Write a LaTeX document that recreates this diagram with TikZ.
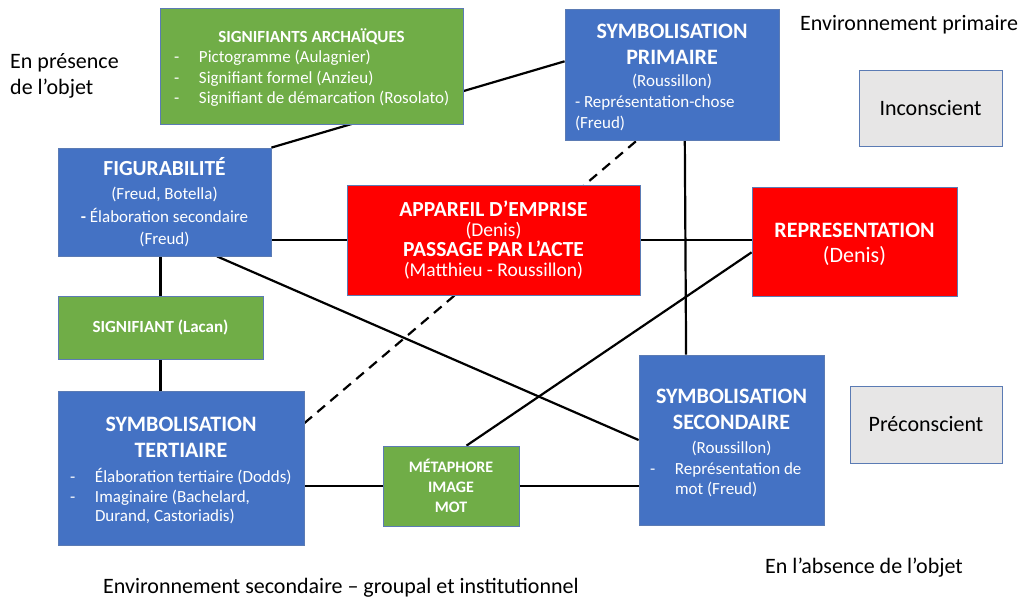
\documentclass[tikz,border=0pt]{standalone}
\usepackage{fontspec}
\setmainfont{Carlito}

\pgfdeclarelayer{background}
\pgfsetlayers{background,main}

\definecolor{boxblue}{HTML}{4472C4}
\definecolor{boxgreen}{HTML}{70AD47}
\definecolor{boxred}{HTML}{FF0000}
\definecolor{boxgrey}{HTML}{E7E6E6}
\definecolor{boxline}{HTML}{5B7BB4}

\newcommand{\bigtitle}[1]{{\fontsize{22}{26}\selectfont\bfseries #1}}
\newcommand{\redtitle}[1]{{\fontsize{21.5}{20}\selectfont\bfseries #1}}
\newcommand{\topgap}[1]{\rule{0pt}{#1}}
\newcommand{\lefttext}[2]{\makebox[#1][l]{#2}}
\newcommand{\dashitem}[2]{\makebox[#1][l]{\makebox[25pt][l]{-}#2}}

\tikzset{
  panel/.style={draw=boxline, line width=0.8pt, text=white, inner sep=0pt, align=center},
  bluebox/.style={panel, fill=boxblue},
  greenbox/.style={panel, fill=boxgreen},
  redbox/.style={panel, fill=boxred},
  greybox/.style={panel, fill=boxgrey, text=black},
  link/.style={line width=2.2pt},
  sidetext/.style={font=\fontsize{22}{26}\selectfont, inner sep=0pt},
}

\begin{document}
\begin{tikzpicture}[x=1pt, y=-1pt]
  \useasboundingbox (0,0) rectangle (1020,600);

  % boxes
  \node[greenbox, minimum width=303pt, minimum height=116pt, font=\fontsize{17}{20.5}\selectfont] (archaic) at (311.5,66)
    {\topgap{17pt}\textbf{SIGNIFIANTS ARCHAÏQUES}\\
     \dashitem{275pt}{Pictogramme (Aulagnier)}\\
     \dashitem{275pt}{Signifiant formel (Anzieu)}\\
     \dashitem{275pt}{Signifiant de démarcation (Rosolato)}};
  \node[bluebox, minimum width=214pt, minimum height=131pt, font=\fontsize{17}{21}\selectfont] (prim) at (672,74.5)
    {\topgap{21pt}\bigtitle{SYMBOLISATION}\\[5pt]
     \bigtitle{PRIMAIRE}\\[1pt]
     (Roussillon)\\
     \lefttext{194pt}{- Représentation-chose}\\
     \lefttext{194pt}{(Freud)}};
  \node[greybox, minimum width=143pt, minimum height=76pt, font=\fontsize{22}{26}\selectfont] (incons) at (930.5,108) {Inconscient};

  \node[bluebox, minimum width=213pt, minimum height=108pt, font=\fontsize{17}{23}\selectfont] (figur) at (164.5,202)
    {{\fontsize{21.5}{24}\selectfont\bfseries FIGURABILITÉ}\\[1pt]
     (Freud, Botella)\\
     {\bfseries -} Élaboration secondaire\\[-1pt]
     (Freud)};
  \node[redbox, minimum width=293pt, minimum height=110pt, font=\fontsize{19.5}{20}\selectfont] (emprise) at (493.5,240)
    {\redtitle{APPAREIL D’EMPRISE}\\
     (Denis)\\
     \redtitle{PASSAGE PAR L’ACTE}\\
     (Matthieu - Roussillon)};
  \node[redbox, minimum width=205pt, minimum height=109pt, font=\fontsize{22}{25}\selectfont] (repr) at (854.5,241.5)
    {\topgap{20pt}\textbf{REPRESENTATION}\\ (Denis)};

  \node[greenbox, minimum width=205pt, minimum height=63pt, font=\fontsize{17}{20}\selectfont\bfseries] (lacan) at (160.5,327.5)
    {SIGNIFIANT (Lacan)};

  \node[bluebox, minimum width=246pt, minimum height=154pt, font=\fontsize{17}{19.5}\selectfont] (tert) at (181,468)
    {\topgap{20pt}\bigtitle{SYMBOLISATION}\\[6.5pt]
     \bigtitle{TERTIAIRE}\\[5.5pt]
     \dashitem{222pt}{Élaboration tertiaire (Dodds)}\\
     \dashitem{222pt}{Imaginaire (Bachelard,}\\
     \lefttext{222pt}{\hspace{25pt}Durand, Castoriadis)}};
  \node[greenbox, minimum width=136pt, minimum height=80pt, font=\fontsize{16}{20}\selectfont\bfseries] (meta) at (451,486)
    {MÉTAPHORE\\ IMAGE\\ MOT};
  \node[bluebox, minimum width=185pt, minimum height=170pt, font=\fontsize{17}{20.5}\selectfont] (second) at (731.5,440)
    {\topgap{21pt}\bigtitle{SYMBOLISATION}\\[5.5pt]
     \bigtitle{SECONDAIRE}\\[3.5pt]
     (Roussillon)\\
     \dashitem{163pt}{Représentation de}\\
     \lefttext{163pt}{\hspace{25pt}mot (Freud)}};
  \node[greybox, minimum width=152pt, minimum height=77pt, font=\fontsize{22}{26}\selectfont] (precons) at (926,424.5) {Préconscient};

  % free texts
  \node[sidetext, anchor=west, align=left] (presence) at (10,76) {En présence\\de l’objet};
  \node[sidetext, anchor=west] (envprim) at (800,25) {Environnement primaire};
  \node[sidetext, anchor=west] (absence) at (765,568) {En l’absence de l’objet};
  \node[sidetext, anchor=west] (envsec) at (103,588) {Environnement secondaire – groupal et institutionnel};

  % links, behind the boxes
  \begin{pgfonlayer}{background}
    \draw[link] (figur.north east) -- (prim.173);
    \draw[link] (emprise.west -| figur.east) -- (emprise.east -| repr.west);
    \draw[link] (figur.-46) -- (second.west);
    \draw[link] (figur.south -| lacan.north) -- (tert.north -| lacan.south);
    \draw[link, dash pattern=on 10pt off 7pt] (tert.20) -- (prim.242);
    \draw[link] (prim.-79) -- (second.118);
    \draw[link] (repr.186) -- (meta.69);
    \draw[link] (meta.west -| tert.east) -- (meta.east -| second.west);
  \end{pgfonlayer}
\end{tikzpicture}
\end{document}
